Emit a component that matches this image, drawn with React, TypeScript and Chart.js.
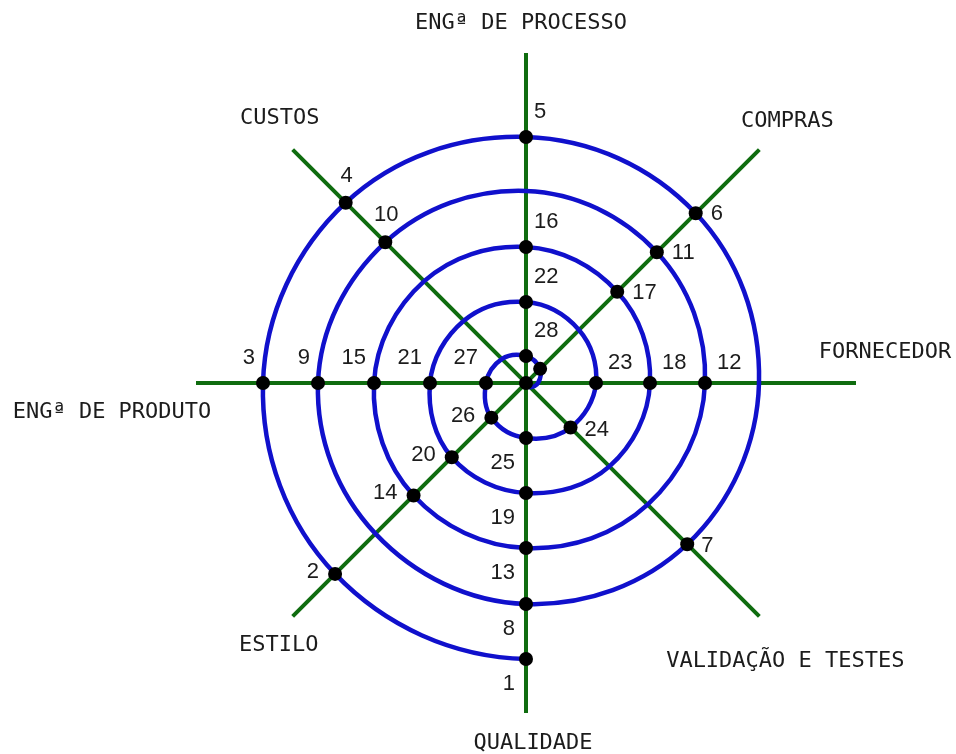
import React, { useEffect, useRef } from 'react';
import { Chart, registerables } from 'chart.js';

Chart.register(...registerables);

// ---- data ----
// Eight spokes, listed clockwise starting at the top.
const axisNames = [
  'ENGª DE PROCESSO',
  'COMPRAS',
  'FORNECEDOR',
  'VALIDAÇÃO E TESTES',
  'QUALIDADE',
  'ESTILO',
  'ENGª DE PRODUTO',
  'CUSTOS',
];
const axisReach = 330;
// the spiral starts on spoke 4 (QUALIDADE) and moves one spoke clockwise per step
const spiralStartAxis = 4;
// radius where the spiral crosses each successive spoke
const spiralRadii = [
  276, 270, 263, 255, 246, 240, 233, 228,
  221, 213, 208, 199, 192, 185, 179, 172,
  165, 159, 152, 144, 136, 129, 124, 118,
  110, 105, 96, 88, 81, 75, 70, 63,
  55, 49, 40, 34, 27, 20, 12, 6, 0,
];
// hidden guide radius one spoke before the start (only shapes the first arc, not drawn)
const spiralLeadRadius = 283;
// which spiral steps carry a dot, and the dot's label
const dotSteps = [
  0, 1, 2, 3, 4, 5, 7, 8, 10, 11, 13, 14, 16, 17, 18, 20, 21, 22, 24, 25,
  26, 28, 30, 31, 32, 33, 34, 36, 37, 40,
];
const dotLabels = [
  '1', '2', '3', '4', '5', '6', '7', '8', '9', '10', '11', '12', '13', '14',
  '15', '16', '17', '18', '19', '20', '21', '22', '23', '24', '25', '26',
  '27', '28', '', '',
];

// ---- styling ----
const BLUE = '#1010cc';
const GREEN = '#0f6c0f';
const TEXT = '#1c1c1c';
const AXIS_FONT = '22px "DejaVu Sans Mono", monospace';
const NUM_FONT = '22px "Liberation Sans", Arial, sans-serif';

// offsets of spoke name (text centre) from spoke end, per spoke
const NAME_OFFSETS: [number, number][] = [
  [-5, -30], [28, -28], [29, -31], [26, 45], [7, 30], [-14, 29], [-84, 29], [-13, -31],
];
// placement of number labels relative to dot, per spoke
const NUM_PLACE: { align: CanvasTextAlign; dx: number; dy: number }[] = [
  { align: 'left', dx: 8, dy: -25 },
  { align: 'left', dx: 15, dy: 1 },
  { align: 'left', dx: 12, dy: -20 },
  { align: 'left', dx: 14, dy: 2 },
  { align: 'right', dx: -11, dy: 25 },
  { align: 'right', dx: -16, dy: -2 },
  { align: 'right', dx: -8, dy: -25 },
  { align: 'center', dx: 1, dy: -27 },
];

const dirOf = (step: number) => (((spiralStartAxis + step) % 8) + 8) % 8;
const polar = (dir: number, r: number) => {
  const a = Math.PI / 2 - (dir * Math.PI) / 4;
  return { x: r * Math.cos(a), y: r * Math.sin(a) };
};

export default function App() {
  const ref = useRef<HTMLCanvasElement | null>(null);

  useEffect(() => {
    document.body.style.margin = '0';
    const canvas = ref.current;
    if (!canvas) return;

    const spiralPts = [
      polar(dirOf(-1), spiralLeadRadius),
      ...spiralRadii.map((r, i) => polar(dirOf(i), r)),
    ];
    const dotPts = dotSteps.map((s) => polar(dirOf(s), spiralRadii[s]));
    const axisSets = [0, 1, 2, 3].map((d) => ({
      data: [polar(d, axisReach), polar(d + 4, axisReach)],
      showLine: true,
      borderColor: GREEN,
      borderWidth: 4,
      pointRadius: 0,
      tension: 0,
      order: 3,
    }));

    const labelPlugin = {
      id: 'spiralLabels',
      afterDatasetsDraw(chart: any) {
        const { ctx } = chart;
        const xs = chart.scales.x;
        const ys = chart.scales.y;
        ctx.save();
        ctx.fillStyle = TEXT;
        ctx.textBaseline = 'middle';
        // spoke names
        ctx.font = AXIS_FONT;
        ctx.textAlign = 'center';
        axisNames.forEach((name, d) => {
          const p = polar(d, axisReach);
          const px = xs.getPixelForValue(p.x) + NAME_OFFSETS[d][0];
          const py = ys.getPixelForValue(p.y) + NAME_OFFSETS[d][1];
          ctx.fillText(name, px, py);
        });
        // dot numbers
        ctx.font = NUM_FONT;
        dotSteps.forEach((s, i) => {
          const lab = dotLabels[i];
          if (!lab) return;
          const d = dirOf(s);
          const p = polar(d, spiralRadii[s]);
          const pl = NUM_PLACE[d];
          ctx.textAlign = pl.align;
          ctx.fillText(lab, xs.getPixelForValue(p.x) + pl.dx, ys.getPixelForValue(p.y) + pl.dy);
        });
        ctx.restore();
      },
    };

    const chart = new Chart(canvas, {
      type: 'scatter',
      data: {
        datasets: [
          {
            data: dotPts,
            showLine: false,
            pointRadius: 7,
            pointBackgroundColor: '#000',
            pointBorderWidth: 0,
            order: 1,
          } as any,
          {
            data: spiralPts,
            showLine: true,
            borderColor: BLUE,
            borderWidth: 4.5,
            pointRadius: 0,
            tension: 0.375,
            segment: {
              borderColor: (c: any) => (c.p0DataIndex === 0 ? 'rgba(0,0,0,0)' : BLUE),
            },
            order: 2,
          } as any,
          ...axisSets,
        ],
      },
      options: {
        animation: false,
        responsive: false,
        events: [],
        layout: { padding: 0, autoPadding: false },
        scales: {
          x: { type: 'linear', min: -526, max: 430, display: false },
          y: { type: 'linear', min: -371, max: 383, display: false },
        },
        plugins: {
          legend: { display: false },
          tooltip: { enabled: false },
        },
      } as any,
      plugins: [labelPlugin],
    });
    return () => chart.destroy();
  }, []);

  return (
    <div style={{ position: 'absolute', left: 0, top: 0, width: 956, height: 754, background: '#fff' }}>
      <canvas ref={ref} width={956} height={754} />
    </div>
  );
}
